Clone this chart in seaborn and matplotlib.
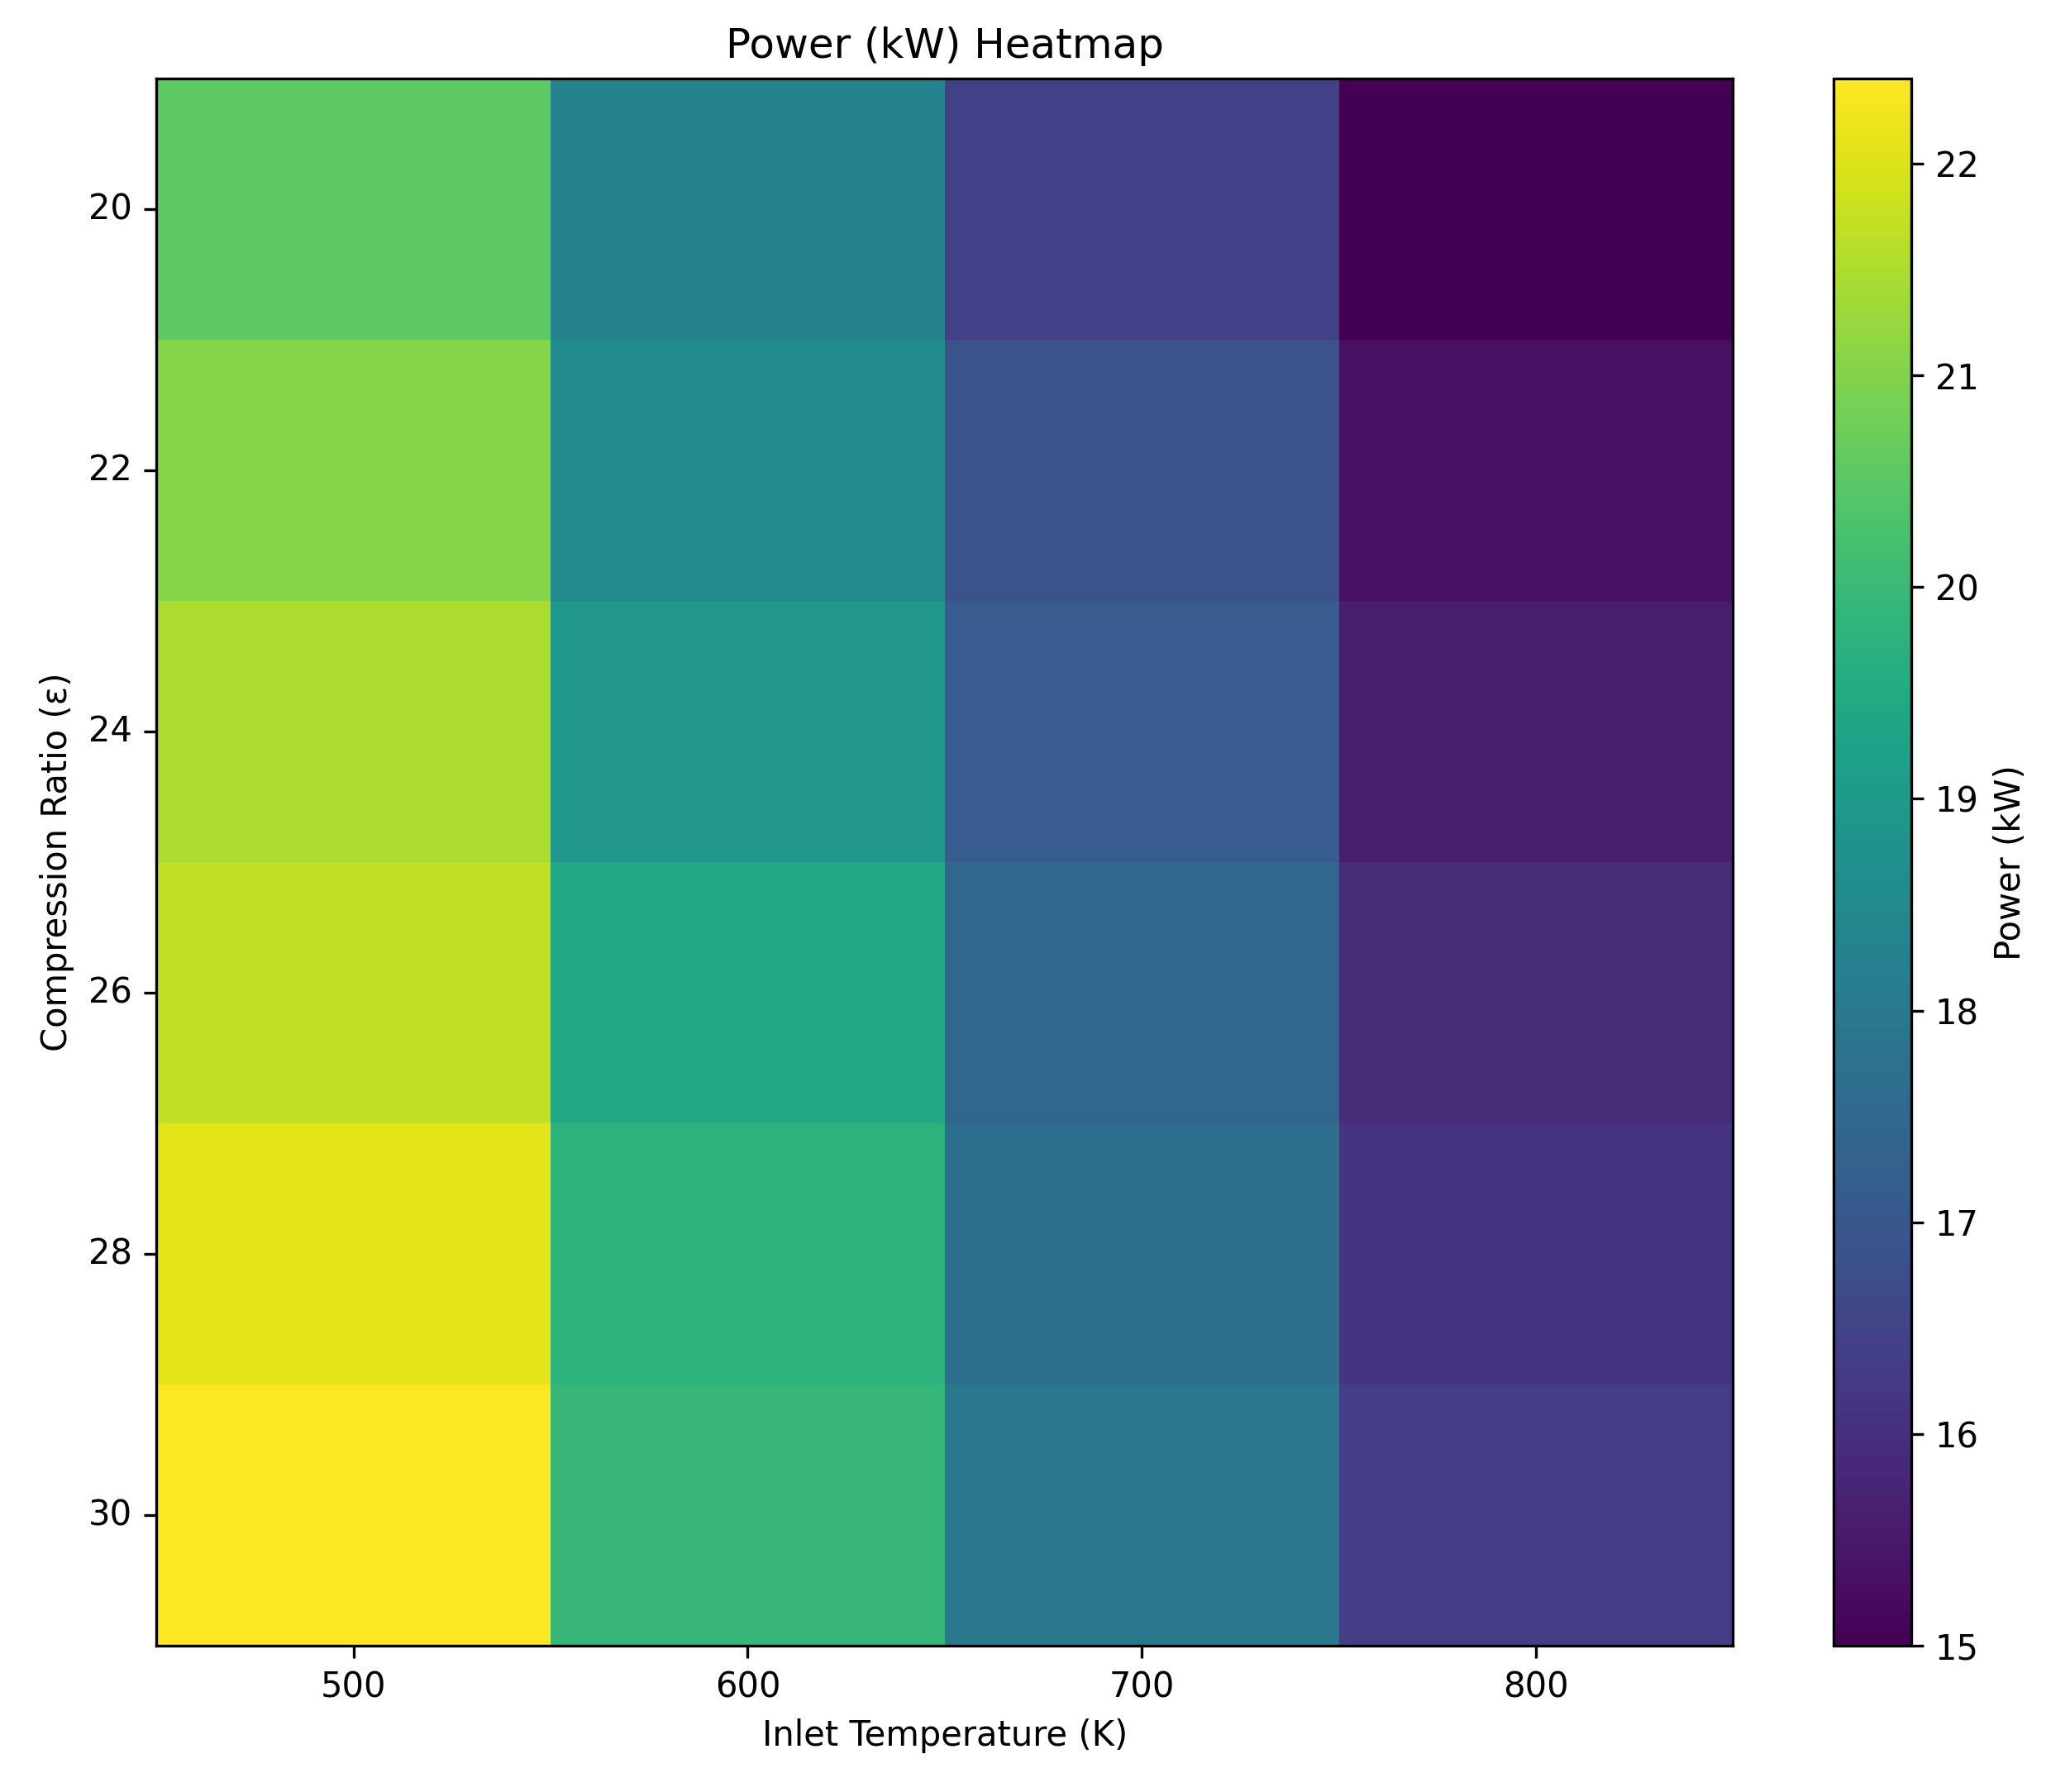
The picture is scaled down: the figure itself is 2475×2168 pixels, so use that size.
import numpy as np
import pandas as pd
import matplotlib
matplotlib.use("Agg")
import matplotlib.pyplot as plt
import seaborn as sns

# 데이터
inlet_temp = [500, 600, 700, 800]
comp_ratio = [20, 22, 24, 26, 28, 30]
power_500 = [20.55, 21.05, 21.5, 21.7, 22.1, 22.4]
power_600 = [18.3, 18.55, 18.95, 19.4, 19.75, 19.95]
power_700 = [16.4, 16.85, 17.15, 17.45, 17.65, 17.95]
power_800 = [15.0, 15.3, 15.6, 15.9, 16.1, 16.35]

df = pd.DataFrame({500: power_500, 600: power_600, 700: power_700, 800: power_800},
                  index=comp_ratio)

fig = plt.figure(figsize=(2475 / 300, 2168 / 300), dpi=300)
ax = fig.add_axes([0.0765, 0.0816, 0.7705, 0.8744])
cax = fig.add_axes([0.896, 0.0816, 0.038, 0.8744])

sns.heatmap(df, cmap="viridis", vmin=15, vmax=22.4, ax=ax, cbar_ax=cax,
            cbar_kws={"label": "Power (kW)"})

ax.set_xticks(np.arange(len(inlet_temp)) + 0.5)
ax.set_xticklabels(inlet_temp, rotation=0)
ax.set_yticks(np.arange(len(comp_ratio)) + 0.5)
ax.set_yticklabels(comp_ratio, rotation=0)
ax.tick_params(length=3.5, width=0.8)
for s in ax.spines.values():
    s.set_visible(True)
    s.set_linewidth(0.8)

cb = ax.collections[0].colorbar
cb.outline.set_linewidth(0.8)
cb.outline.set_visible(True)
cb.set_ticks([15, 16, 17, 18, 19, 20, 21, 22])

ax.set_xlabel("Inlet Temperature (K)")
ax.set_ylabel("Compression Ratio (ε)")
ax.set_title("Power (kW) Heatmap", fontsize=12)

fig.savefig("out.png", dpi=300)
